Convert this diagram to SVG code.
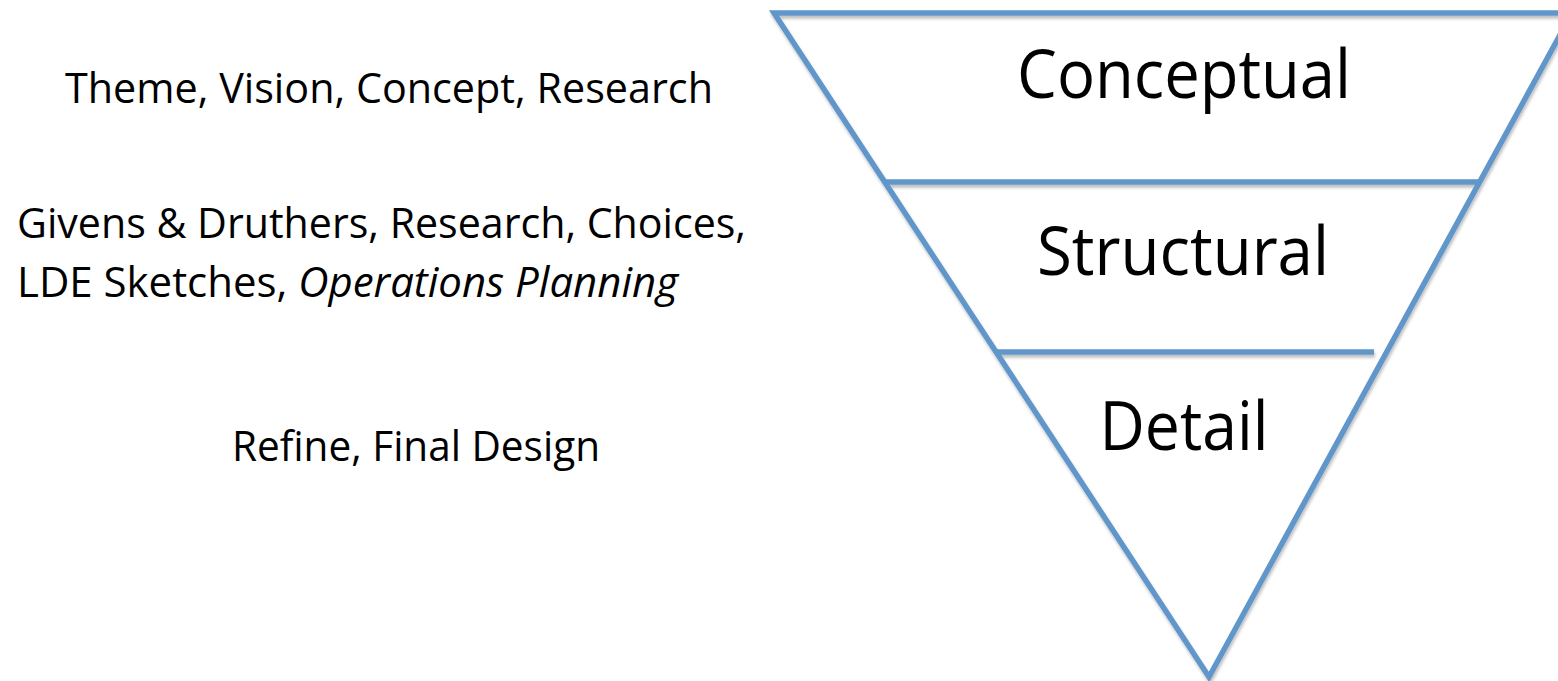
<svg xmlns="http://www.w3.org/2000/svg" width="1558" height="681" viewBox="0 0 1558 681">
  <style>
    .lbl { font-family: "Open Sans", "Noto Sans", "Liberation Sans", sans-serif; fill: #000; }
    .side { font-size: 42px; }
    .tier { font-size: 67px; text-anchor: middle; }
    .edge { stroke: #6196CA; stroke-width: 5.5; fill: none; stroke-linejoin: miter; }
  </style>
  <defs>
    <filter id="shadow" x="-5%" y="-5%" width="110%" height="115%">
      <feDropShadow dx="1" dy="3" stdDeviation="1.5" flood-color="#000" flood-opacity="0.25"/>
    </filter>
  </defs>
  <rect width="1558" height="681" fill="#fff"/>

  <g id="connectors" filter="url(#shadow)">
    <polygon class="edge" points="774,13 1572,13 1209,677"/>
    <line class="edge" x1="886" y1="182" x2="1478" y2="182"/>
    <line class="edge" x1="996" y1="352" x2="1374" y2="352"/>
  </g>

  <g id="tier-conceptual">
    <text class="lbl tier" x="1184" y="98" textLength="334" lengthAdjust="spacingAndGlyphs">Conceptual</text>
  </g>
  <g id="tier-structural">
    <text class="lbl tier" x="1183" y="275" textLength="292" lengthAdjust="spacingAndGlyphs">Structural</text>
  </g>
  <g id="tier-detail">
    <text class="lbl tier" x="1184" y="450" textLength="169" lengthAdjust="spacingAndGlyphs">Detail</text>
  </g>

  <g id="desc-conceptual">
    <text class="lbl side" x="65" y="103" textLength="648" lengthAdjust="spacingAndGlyphs">Theme, Vision, Concept, Research</text>
  </g>
  <g id="desc-structural">
    <text class="lbl side" x="17" y="238" textLength="729" lengthAdjust="spacingAndGlyphs">Givens &amp; Druthers, Research, Choices,</text>
    <text class="lbl side" x="17" y="297" textLength="661" lengthAdjust="spacingAndGlyphs">LDE Sketches, <tspan font-style="italic">Operations Planning</tspan></text>
  </g>
  <g id="desc-detail">
    <text class="lbl side" x="232" y="461" textLength="368" lengthAdjust="spacingAndGlyphs">Refine, Final Design</text>
  </g>
</svg>
